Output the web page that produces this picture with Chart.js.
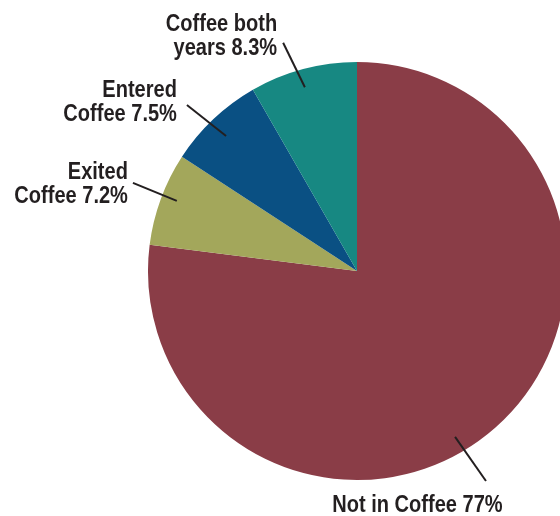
<!DOCTYPE html>
<html>
<head>
<meta charset="utf-8">
<script src="https://cdn.jsdelivr.net/npm/chart.js@4/dist/chart.umd.min.js"></script>
<style>
  html, body { margin: 0; padding: 0; background: #fff; overflow: hidden; }
  #wrap { width: 580px; height: 516px; }
</style>
</head>
<body>
<div id="wrap"><canvas id="pie" width="580" height="516"></canvas></div>
<script>
// データ
const categories = ['Not in Coffee', 'Exited Coffee', 'Entered Coffee', 'Coffee both years'];
const shares = [77, 7.2, 7.5, 8.3];
const labelLines = [
  ['Not in Coffee 77%'],
  ['Exited', 'Coffee 7.2%'],
  ['Entered', 'Coffee 7.5%'],
  ['Coffee both', 'years 8.3%']
];

const colors = ['#8a3d47', '#a3a75b', '#0a5083', '#178882'];

// 引き出し線の位置（スライス内の割合・半径比）と文字のずれ
const leaderStyle = [
  { at1: 0.539, at2: 0.5355, r1: 0.922, r2: 1.179, dx: -68.5, dy: 31, align: 'center' },
  { at1: 0.542, at2: 0.55, r1: 0.925, r2: 1.152, dx: -5, dy: -3.5, align: 'right' },
  { at1: 0.473, at2: 0.414, r1: 0.90, r2: 1.137, dx: -10, dy: -8, align: 'right' },
  { at1: 0.47, at2: 0.40, r1: 0.914, r2: 1.148, dx: -6, dy: -11.5, align: 'right' }
];

const FONT_SIZE = 24;
const SQUEEZE = 0.835;
const LINE_H = 23.5;

function drawText(ctx, text, x, y, align) {
  const w = ctx.measureText(text).width * SQUEEZE;
  let left = x;
  if (align === 'right') left = x - w;
  else if (align === 'center') left = x - w / 2;
  ctx.save();
  ctx.translate(left, y);
  ctx.scale(SQUEEZE, 1);
  ctx.textAlign = 'left';
  ctx.fillText(text, 0, 0);
  ctx.restore();
}

function pointOnArc(p, frac, rFrac) {
  const a = p.startAngle + (p.endAngle - p.startAngle) * frac;
  return {
    x: p.x + Math.cos(a) * p.outerRadius * rFrac,
    y: p.y + Math.sin(a) * p.outerRadius * rFrac
  };
}

const calloutPlugin = {
  id: 'callouts',
  afterDraw(chart) {
    const ctx = chart.ctx;
    const arcs = chart.getDatasetMeta(0).data;
    ctx.save();
    ctx.font = `bold ${FONT_SIZE}px "Liberation Sans", Arial, sans-serif`;
    ctx.fillStyle = '#231f20';
    ctx.strokeStyle = '#231f20';
    ctx.lineWidth = 2;
    ctx.textBaseline = 'alphabetic';
    arcs.forEach((arc, i) => {
      const s = leaderStyle[i];
      const p = arc.getProps(['x', 'y', 'startAngle', 'endAngle', 'outerRadius'], true);
      const inner = pointOnArc(p, s.at1, s.r1);
      const outer = pointOnArc(p, s.at2, s.r2);
      ctx.beginPath();
      ctx.moveTo(inner.x, inner.y);
      ctx.lineTo(outer.x, outer.y);
      ctx.stroke();

      const tx = outer.x + s.dx;
      const ty = outer.y + s.dy;
      labelLines[i].forEach((line, k) => {
        drawText(ctx, line, tx, ty + k * LINE_H, s.align);
      });
    });
    ctx.restore();
  }
};

new Chart(document.getElementById('pie'), {
  type: 'pie',
  data: {
    labels: categories,
    datasets: [{
      data: shares,
      backgroundColor: colors,
      borderWidth: 0,
      hoverOffset: 0,
      offset: 0
    }]
  },
  options: {
    responsive: false,
    animation: false,
    events: [],
    layout: {
      padding: { left: 148, top: 62, right: 14, bottom: 36 }
    },
    plugins: {
      legend: { display: false },
      tooltip: { enabled: false }
    }
  },
  plugins: [calloutPlugin]
});
</script>
</body>
</html>
